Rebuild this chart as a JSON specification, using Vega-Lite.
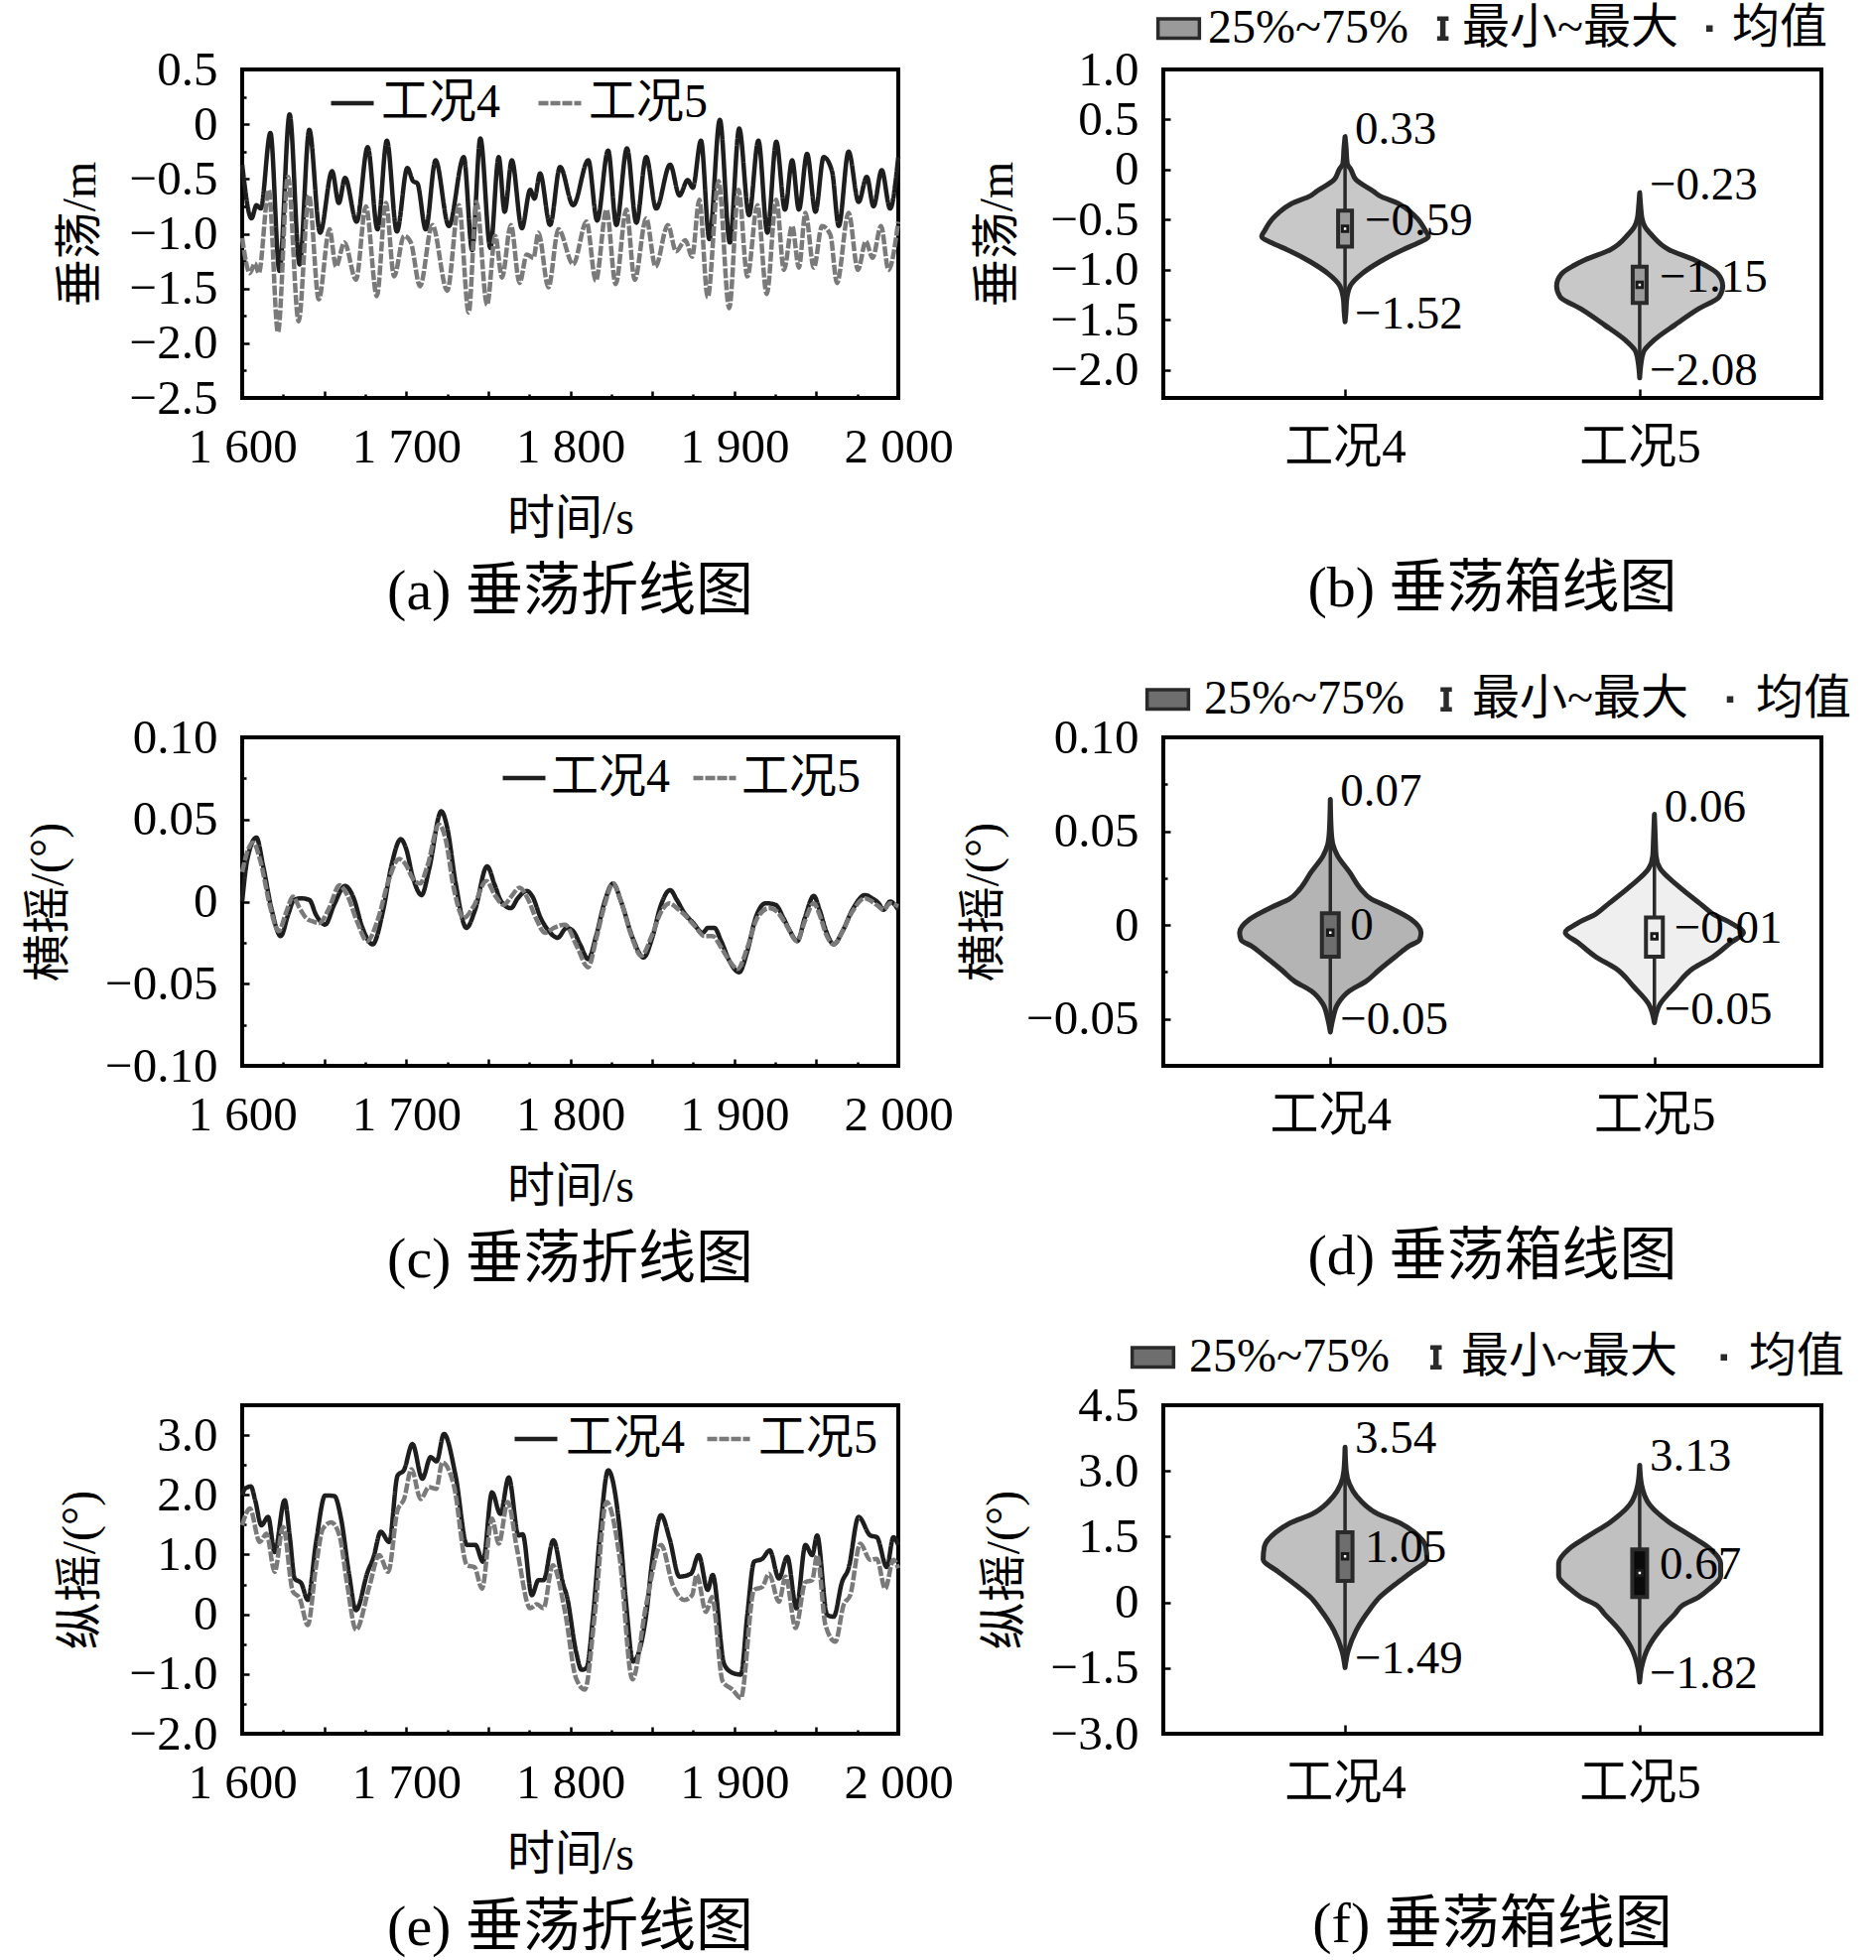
{
"$schema": "https://vega.github.io/schema/vega-lite/v6.json",
"autosize": {"type": "pad"},
"padding": {"left": 23, "top": 2, "right": 2, "bottom": 2},
"background": "#ffffff",
"config": {
  "font": "Liberation Serif, Noto Sans CJK SC",
  "view": {"stroke": "#000000", "strokeWidth": 4},
  "axis": {"domain": false, "grid": false, "labelFont": "Liberation Serif, Noto Sans CJK SC", "labelFontSize": 49, "labelColor": "#000000", "titleFont": "Liberation Serif, Noto Sans CJK SC", "titleFontSize": 48, "titleFontWeight": "normal", "titleColor": "#000000", "tickColor": "#000000", "tickWidth": 2.5, "labelPadding": 32, "labelFlush": false, "labelOverlap": false, "labelSeparation": -200},
  "legend": {"labelFont": "Liberation Serif, Noto Sans CJK SC", "labelFontSize": 48, "labelColor": "#000000", "padding": 0, "labelLimit": 600},
  "title": {"font": "Liberation Serif, Noto Sans CJK SC", "fontSize": 58, "fontWeight": "normal", "color": "#000000"}
},
"datasets": {
"heave": [
{"s":"工况4","t":1600,"v":-0.37},{"s":"工况4","t":1605.7,"v":-0.86},{"s":"工况4","t":1608.7,"v":-0.74},{"s":"工况4","t":1611.3,"v":-0.77},{"s":"工况4","t":1617.2,"v":-0.08},{"s":"工况4","t":1622.7,"v":-1.34},{"s":"工况4","t":1628.9,"v":0.09},{"s":"工况4","t":1635,"v":-1.28},{"s":"工况4","t":1640.9,"v":-0.05},{"s":"工况4","t":1647.5,"v":-0.99},{"s":"工况4","t":1654.8,"v":-0.43},{"s":"工况4","t":1658.9,"v":-0.72},{"s":"工况4","t":1662.7,"v":-0.49},{"s":"工况4","t":1669.8,"v":-0.89},{"s":"工况4","t":1676.5,"v":-0.21},{"s":"工况4","t":1682.5,"v":-0.96},{"s":"工况4","t":1688.2,"v":-0.15},{"s":"工况4","t":1694.3,"v":-0.98},{"s":"工况4","t":1700.7,"v":-0.4},{"s":"工况4","t":1704.2,"v":-0.52},{"s":"工况4","t":1706.8,"v":-0.54},{"s":"工况4","t":1711.9,"v":-0.96},{"s":"工况4","t":1717.9,"v":-0.33},{"s":"工况4","t":1726,"v":-0.93},{"s":"工况4","t":1735.1,"v":-0.3},{"s":"工况4","t":1740.2,"v":-1.15},{"s":"工况4","t":1745.2,"v":-0.13},{"s":"工况4","t":1751.3,"v":-1.13},{"s":"工况4","t":1756.4,"v":-0.3},{"s":"工况4","t":1760,"v":-0.8},{"s":"工况4","t":1764.4,"v":-0.33},{"s":"工况4","t":1770.5,"v":-0.95},{"s":"工况4","t":1775.6,"v":-0.6},{"s":"工况4","t":1778.2,"v":-0.68},{"s":"工况4","t":1781.6,"v":-0.45},{"s":"工况4","t":1787.7,"v":-0.92},{"s":"工况4","t":1793.8,"v":-0.39},{"s":"工况4","t":1801.8,"v":-0.74},{"s":"工况4","t":1811,"v":-0.33},{"s":"工况4","t":1816.4,"v":-0.88},{"s":"工况4","t":1823.1,"v":-0.24},{"s":"工况4","t":1828.1,"v":-0.92},{"s":"工况4","t":1834.6,"v":-0.22},{"s":"工况4","t":1840.3,"v":-0.9},{"s":"工况4","t":1846.3,"v":-0.3},{"s":"工况4","t":1852.4,"v":-0.77},{"s":"工况4","t":1860.9,"v":-0.37},{"s":"工况4","t":1866.6,"v":-0.65},{"s":"工况4","t":1871.6,"v":-0.51},{"s":"工况4","t":1874.7,"v":-0.58},{"s":"工况4","t":1879.7,"v":-0.15},{"s":"工况4","t":1884.8,"v":-1.05},{"s":"工况4","t":1891.2,"v":0.04},{"s":"工况4","t":1897.3,"v":-1.08},{"s":"工况4","t":1903,"v":-0.04},{"s":"工况4","t":1909,"v":-0.83},{"s":"工况4","t":1914.7,"v":-0.15},{"s":"工况4","t":1920.2,"v":-0.99},{"s":"工况4","t":1925.6,"v":-0.16},{"s":"工况4","t":1930.9,"v":-0.78},{"s":"工况4","t":1935.3,"v":-0.33},{"s":"工况4","t":1939.4,"v":-0.78},{"s":"工况4","t":1944.4,"v":-0.27},{"s":"工况4","t":1949.5,"v":-0.8},{"s":"工况4","t":1954.5,"v":-0.3},{"s":"工况4","t":1959.6,"v":-0.43},{"s":"工况4","t":1963.7,"v":-0.93},{"s":"工况4","t":1969.7,"v":-0.25},{"s":"工况4","t":1975.8,"v":-0.71},{"s":"工况4","t":1980.8,"v":-0.48},{"s":"工况4","t":1984.9,"v":-0.75},{"s":"工况4","t":1989.9,"v":-0.42},{"s":"工况4","t":1995,"v":-0.77},{"s":"工况4","t":2000,"v":-0.3},
{"s":"工况5","t":1600,"v":-1.04},{"s":"工况5","t":1604.7,"v":-1.36},{"s":"工况5","t":1607.7,"v":-1.27},{"s":"工况5","t":1610.1,"v":-1.36},{"s":"工况5","t":1616.2,"v":-0.6},{"s":"工况5","t":1621.8,"v":-1.9},{"s":"工况5","t":1627.9,"v":-0.48},{"s":"工况5","t":1634.4,"v":-1.8},{"s":"工况5","t":1640.7,"v":-0.65},{"s":"工况5","t":1646.7,"v":-1.6},{"s":"工况5","t":1653.2,"v":-0.96},{"s":"工况5","t":1657.2,"v":-1.3},{"s":"工况5","t":1662.3,"v":-1.08},{"s":"工况5","t":1669.4,"v":-1.42},{"s":"工况5","t":1675.4,"v":-0.75},{"s":"工况5","t":1682.1,"v":-1.57},{"s":"工况5","t":1687.6,"v":-0.72},{"s":"工况5","t":1692.6,"v":-1.39},{"s":"工况5","t":1698.7,"v":-1.02},{"s":"工况5","t":1702.8,"v":-1.08},{"s":"工况5","t":1708.4,"v":-1.48},{"s":"工况5","t":1715.9,"v":-0.92},{"s":"工况5","t":1725,"v":-1.52},{"s":"工况5","t":1732.1,"v":-0.74},{"s":"工况5","t":1738.1,"v":-1.72},{"s":"工况5","t":1742.8,"v":-0.71},{"s":"工况5","t":1749.3,"v":-1.65},{"s":"工况5","t":1754.3,"v":-1.02},{"s":"工况5","t":1758.4,"v":-1.4},{"s":"工况5","t":1763.8,"v":-0.92},{"s":"工况5","t":1769.1,"v":-1.45},{"s":"工况5","t":1773.5,"v":-1.19},{"s":"工况5","t":1777.6,"v":-1.22},{"s":"工况5","t":1780.6,"v":-0.99},{"s":"工况5","t":1786.7,"v":-1.49},{"s":"工况5","t":1792.8,"v":-0.96},{"s":"工况5","t":1801.8,"v":-1.28},{"s":"工况5","t":1809.9,"v":-0.89},{"s":"工况5","t":1815.6,"v":-1.43},{"s":"工况5","t":1822.1,"v":-0.78},{"s":"工况5","t":1827.7,"v":-1.46},{"s":"工况5","t":1834.2,"v":-0.78},{"s":"工况5","t":1839.3,"v":-1.42},{"s":"工况5","t":1846.3,"v":-0.86},{"s":"工况5","t":1852,"v":-1.3},{"s":"工况5","t":1859.5,"v":-0.92},{"s":"工况5","t":1864.5,"v":-1.16},{"s":"工况5","t":1870.2,"v":-1.06},{"s":"工况5","t":1874.3,"v":-1.21},{"s":"工况5","t":1878.7,"v":-0.69},{"s":"工况5","t":1883.8,"v":-1.58},{"s":"工况5","t":1890.4,"v":-0.52},{"s":"工况5","t":1896.9,"v":-1.68},{"s":"工况5","t":1902.6,"v":-0.6},{"s":"工况5","t":1908,"v":-1.39},{"s":"工况5","t":1914.1,"v":-0.74},{"s":"工况5","t":1919.8,"v":-1.55},{"s":"工况5","t":1925.6,"v":-0.69},{"s":"工况5","t":1930.3,"v":-1.33},{"s":"工况5","t":1935.3,"v":-0.93},{"s":"工况5","t":1939.4,"v":-1.31},{"s":"工况5","t":1943.4,"v":-0.81},{"s":"工况5","t":1948.5,"v":-1.31},{"s":"工况5","t":1953.5,"v":-0.93},{"s":"工况5","t":1958.6,"v":-1.01},{"s":"工况5","t":1962.6,"v":-1.45},{"s":"工况5","t":1969.7,"v":-0.81},{"s":"工况5","t":1975.4,"v":-1.33},{"s":"工况5","t":1980.2,"v":-1.07},{"s":"工况5","t":1984.3,"v":-1.22},{"s":"工况5","t":1989.5,"v":-0.93},{"s":"工况5","t":1994,"v":-1.33},{"s":"工况5","t":2000,"v":-0.89}
],
"roll": [
{"s":"工况4","t":1600,"v":0.0},{"s":"工况4","t":1603,"v":0.025},{"s":"工况4","t":1608.7,"v":0.039},{"s":"工况4","t":1612.7,"v":0.022},{"s":"工况4","t":1618,"v":-0.005},{"s":"工况4","t":1623.5,"v":-0.021},{"s":"工况4","t":1628,"v":-0.008},{"s":"工况4","t":1631.6,"v":0.001},{"s":"工况4","t":1636,"v":0.002},{"s":"工况4","t":1641,"v":0.001},{"s":"工况4","t":1645,"v":-0.008},{"s":"工况4","t":1650.6,"v":-0.014},{"s":"工况4","t":1656,"v":-0.002},{"s":"工况4","t":1662.7,"v":0.0095},{"s":"工况4","t":1668,"v":0.002},{"s":"工况4","t":1673,"v":-0.015},{"s":"工况4","t":1679.5,"v":-0.026},{"s":"工况4","t":1686,"v":-0.005},{"s":"工况4","t":1691,"v":0.022},{"s":"工况4","t":1696.7,"v":0.038},{"s":"工况4","t":1700,"v":0.032},{"s":"工况4","t":1704,"v":0.015},{"s":"工况4","t":1709.4,"v":0.004},{"s":"工况4","t":1714,"v":0.02},{"s":"工况4","t":1721.4,"v":0.055},{"s":"工况4","t":1725,"v":0.045},{"s":"工况4","t":1730,"v":0.012},{"s":"工况4","t":1736.7,"v":-0.016},{"s":"工况4","t":1742,"v":-0.005},{"s":"工况4","t":1749.3,"v":0.0215},{"s":"工况4","t":1754,"v":0.01},{"s":"工况4","t":1758,"v":0.0},{"s":"工况4","t":1763.8,"v":-0.004},{"s":"工况4","t":1768,"v":0.002},{"s":"工况4","t":1773.5,"v":0.0065},{"s":"工况4","t":1777,"v":0.003},{"s":"工况4","t":1782,"v":-0.01},{"s":"工况4","t":1787,"v":-0.018},{"s":"工况4","t":1792.3,"v":-0.022},{"s":"工况4","t":1797.8,"v":-0.016},{"s":"工况4","t":1801.8,"v":-0.018},{"s":"工况4","t":1806,"v":-0.026},{"s":"工况4","t":1810.9,"v":-0.035},{"s":"工况4","t":1816,"v":-0.02},{"s":"工况4","t":1821,"v":0.0},{"s":"工况4","t":1826.1,"v":0.011},{"s":"工况4","t":1831,"v":0.0},{"s":"工况4","t":1838,"v":-0.022},{"s":"工况4","t":1844.7,"v":-0.034},{"s":"工况4","t":1850,"v":-0.022},{"s":"工况4","t":1855,"v":-0.003},{"s":"工况4","t":1860.9,"v":0.007},{"s":"工况4","t":1865,"v":0.001},{"s":"工况4","t":1869.6,"v":-0.007},{"s":"工况4","t":1875,"v":-0.013},{"s":"工况4","t":1880.7,"v":-0.019},{"s":"工况4","t":1884,"v":-0.016},{"s":"工况4","t":1887.8,"v":-0.016},{"s":"工况4","t":1892,"v":-0.024},{"s":"工况4","t":1897,"v":-0.036},{"s":"工况4","t":1903,"v":-0.043},{"s":"工况4","t":1908,"v":-0.03},{"s":"工况4","t":1913,"v":-0.01},{"s":"工况4","t":1919.2,"v":-0.001},{"s":"工况4","t":1925.2,"v":-0.002},{"s":"工况4","t":1930,"v":-0.01},{"s":"工况4","t":1934,"v":-0.018},{"s":"工况4","t":1938.4,"v":-0.024},{"s":"工况4","t":1943,"v":-0.01},{"s":"工况4","t":1948.5,"v":0.0035},{"s":"工况4","t":1952,"v":-0.005},{"s":"工况4","t":1956,"v":-0.018},{"s":"工况4","t":1960.6,"v":-0.026},{"s":"工况4","t":1966,"v":-0.018},{"s":"工况4","t":1972,"v":-0.005},{"s":"工况4","t":1979.8,"v":0.004},{"s":"工况4","t":1984,"v":0.002},{"s":"工况4","t":1988,"v":-0.001},{"s":"工况4","t":1991,"v":-0.005},{"s":"工况4","t":1995,"v":0.0},{"s":"工况4","t":2000,"v":-0.005},
{"s":"工况5","t":1600,"v":0.018},{"s":"工况5","t":1603,"v":0.03},{"s":"工况5","t":1606.7,"v":0.036},{"s":"工况5","t":1611,"v":0.025},{"s":"工况5","t":1617,"v":-0.003},{"s":"工况5","t":1622.2,"v":-0.018},{"s":"工况5","t":1627,"v":-0.006},{"s":"工况5","t":1630.9,"v":0.003},{"s":"工况5","t":1635,"v":-0.004},{"s":"工况5","t":1639,"v":-0.01},{"s":"工况5","t":1643,"v":-0.012},{"s":"工况5","t":1647.1,"v":-0.013},{"s":"工况5","t":1653,"v":-0.004},{"s":"工况5","t":1659.3,"v":0.01},{"s":"工况5","t":1664,"v":0.004},{"s":"工况5","t":1670,"v":-0.012},{"s":"工况5","t":1676.1,"v":-0.024},{"s":"工况5","t":1683,"v":-0.01},{"s":"工况5","t":1689,"v":0.012},{"s":"工况5","t":1695.7,"v":0.026},{"s":"工况5","t":1700,"v":0.022},{"s":"工况5","t":1704,"v":0.014},{"s":"工况5","t":1708.4,"v":0.011},{"s":"工况5","t":1713,"v":0.022},{"s":"工况5","t":1719.9,"v":0.047},{"s":"工况5","t":1724,"v":0.038},{"s":"工况5","t":1729,"v":0.008},{"s":"工况5","t":1735.1,"v":-0.01},{"s":"工况5","t":1741,"v":-0.003},{"s":"工况5","t":1748.9,"v":0.0125},{"s":"工况5","t":1754,"v":0.004},{"s":"工况5","t":1759.4,"v":-0.002},{"s":"工况5","t":1764,"v":0.003},{"s":"工况5","t":1769.1,"v":0.0085},{"s":"工况5","t":1774,"v":0.002},{"s":"工况5","t":1779,"v":-0.01},{"s":"工况5","t":1784.7,"v":-0.019},{"s":"工况5","t":1790,"v":-0.016},{"s":"工况5","t":1796.8,"v":-0.014},{"s":"工况5","t":1803.9,"v":-0.027},{"s":"工况5","t":1810.9,"v":-0.04},{"s":"工况5","t":1816,"v":-0.022},{"s":"工况5","t":1821,"v":-0.002},{"s":"工况5","t":1826.1,"v":0.011},{"s":"工况5","t":1831,"v":0.0},{"s":"工况5","t":1837,"v":-0.02},{"s":"工况5","t":1843.3,"v":-0.033},{"s":"工况5","t":1850,"v":-0.02},{"s":"工况5","t":1855,"v":-0.007},{"s":"工况5","t":1860.5,"v":-0.001},{"s":"工况5","t":1865,"v":-0.004},{"s":"工况5","t":1869.6,"v":-0.008},{"s":"工况5","t":1876,"v":-0.015},{"s":"工况5","t":1881.7,"v":-0.021},{"s":"工况5","t":1886.8,"v":-0.021},{"s":"工况5","t":1892,"v":-0.028},{"s":"工况5","t":1897,"v":-0.036},{"s":"工况5","t":1902,"v":-0.041},{"s":"工况5","t":1908,"v":-0.028},{"s":"工况5","t":1914,"v":-0.01},{"s":"工况5","t":1921.2,"v":-0.004},{"s":"工况5","t":1926,"v":-0.006},{"s":"工况5","t":1931,"v":-0.013},{"s":"工况5","t":1938.4,"v":-0.024},{"s":"工况5","t":1943,"v":-0.012},{"s":"工况5","t":1948.5,"v":-0.001},{"s":"工况5","t":1952,"v":-0.008},{"s":"工况5","t":1956,"v":-0.02},{"s":"工况5","t":1960.6,"v":-0.026},{"s":"工况5","t":1966,"v":-0.018},{"s":"工况5","t":1972,"v":-0.006},{"s":"工况5","t":1979.8,"v":0.002},{"s":"工况5","t":1984,"v":0.0},{"s":"工况5","t":1988,"v":-0.003},{"s":"工况5","t":1991,"v":-0.005},{"s":"工况5","t":1995,"v":-0.001},{"s":"工况5","t":2000,"v":-0.003}
],
"pitch": [
{"s":"工况4","t":1600,"v":1.99},{"s":"工况4","t":1601.6,"v":2.1},{"s":"工况4","t":1605.3,"v":2.14},{"s":"工况4","t":1608,"v":1.9},{"s":"工况4","t":1611.7,"v":1.49},{"s":"工况4","t":1615.8,"v":1.63},{"s":"工况4","t":1619.8,"v":1.04},{"s":"工况4","t":1625.9,"v":1.91},{"s":"工况4","t":1629,"v":1.3},{"s":"工况4","t":1632,"v":0.6},{"s":"工况4","t":1636,"v":0.52},{"s":"工况4","t":1640,"v":0.24},{"s":"工况4","t":1645,"v":1.2},{"s":"工况4","t":1650.6,"v":1.99},{"s":"工况4","t":1656.2,"v":1.98},{"s":"工况4","t":1660.3,"v":1.6},{"s":"工况4","t":1665,"v":0.7},{"s":"工况4","t":1669.4,"v":0.07},{"s":"工况4","t":1676.5,"v":0.71},{"s":"工况4","t":1680,"v":0.95},{"s":"工况4","t":1684.5,"v":1.38},{"s":"工况4","t":1689.6,"v":1.21},{"s":"工况4","t":1694.7,"v":2.32},{"s":"工况4","t":1698.7,"v":2.42},{"s":"工况4","t":1703.8,"v":2.85},{"s":"工况4","t":1709.8,"v":2.27},{"s":"工况4","t":1714.9,"v":2.63},{"s":"工况4","t":1718.5,"v":2.56},{"s":"工况4","t":1723,"v":3.02},{"s":"工况4","t":1730.1,"v":2.32},{"s":"工况4","t":1737.1,"v":1.16},{"s":"工况4","t":1742.2,"v":1.16},{"s":"工况4","t":1746.8,"v":0.88},{"s":"工况4","t":1752.3,"v":2.04},{"s":"工况4","t":1757.4,"v":1.68},{"s":"工况4","t":1762.5,"v":2.29},{"s":"工况4","t":1768.5,"v":1.32},{"s":"工况4","t":1771,"v":1.34},{"s":"工况4","t":1776.6,"v":0.32},{"s":"工况4","t":1780.6,"v":0.57},{"s":"工况4","t":1783.7,"v":0.57},{"s":"工况4","t":1789.7,"v":1.24},{"s":"工况4","t":1795.8,"v":0.49},{"s":"工况4","t":1797.8,"v":0.32},{"s":"工况4","t":1803.5,"v":-0.62},{"s":"工况4","t":1806.9,"v":-0.93},{"s":"工况4","t":1809.9,"v":-0.9},{"s":"工况4","t":1814,"v":0.0},{"s":"工况4","t":1818,"v":1.3},{"s":"工况4","t":1823.1,"v":2.41},{"s":"工况4","t":1830.2,"v":1.41},{"s":"工况4","t":1834,"v":0.2},{"s":"工况4","t":1838.3,"v":-0.79},{"s":"工况4","t":1846.3,"v":-0.01},{"s":"工况4","t":1850,"v":0.9},{"s":"工况4","t":1855.4,"v":1.66},{"s":"工况4","t":1860.5,"v":1.27},{"s":"工况4","t":1866.6,"v":0.63},{"s":"工况4","t":1873.6,"v":0.68},{"s":"工况4","t":1878.3,"v":0.99},{"s":"工况4","t":1883.8,"v":0.41},{"s":"工况4","t":1886.8,"v":0.66},{"s":"工况4","t":1893.9,"v":-0.84},{"s":"工况4","t":1898.9,"v":-0.98},{"s":"工况4","t":1904,"v":-1.01},{"s":"工况4","t":1908,"v":0.0},{"s":"工况4","t":1912.1,"v":0.88},{"s":"工况4","t":1917.1,"v":0.93},{"s":"工况4","t":1921.6,"v":1.07},{"s":"工况4","t":1927.2,"v":0.6},{"s":"工况4","t":1932.3,"v":0.96},{"s":"工况4","t":1937.9,"v":0.1},{"s":"工况4","t":1943.4,"v":1.16},{"s":"工况4","t":1947.5,"v":0.99},{"s":"工况4","t":1950.5,"v":1.32},{"s":"工况4","t":1956.6,"v":-0.01},{"s":"工况4","t":1960.6,"v":-0.04},{"s":"工况4","t":1965.7,"v":0.54},{"s":"工况4","t":1969.7,"v":0.77},{"s":"工况4","t":1975.8,"v":1.63},{"s":"工况4","t":1982.9,"v":1.32},{"s":"工况4","t":1986.9,"v":1.29},{"s":"工况4","t":1993,"v":0.79},{"s":"工况4","t":1997,"v":1.29},{"s":"工况4","t":2000,"v":1.16},
{"s":"工况5","t":1600,"v":1.49},{"s":"工况5","t":1604.7,"v":1.77},{"s":"工况5","t":1610.7,"v":1.21},{"s":"工况5","t":1614.8,"v":1.35},{"s":"工况5","t":1619.8,"v":0.71},{"s":"工况5","t":1624.9,"v":1.46},{"s":"工况5","t":1630.9,"v":0.38},{"s":"工况5","t":1635,"v":0.27},{"s":"工况5","t":1640,"v":-0.18},{"s":"工况5","t":1645,"v":0.8},{"s":"工况5","t":1649.2,"v":1.43},{"s":"工况5","t":1654.2,"v":1.54},{"s":"工况5","t":1659.3,"v":1.32},{"s":"工况5","t":1664,"v":0.5},{"s":"工况5","t":1669.4,"v":-0.26},{"s":"工况5","t":1677.5,"v":0.46},{"s":"工况5","t":1683.5,"v":0.99},{"s":"工况5","t":1689,"v":0.71},{"s":"工况5","t":1694.7,"v":1.74},{"s":"工况5","t":1698.7,"v":1.93},{"s":"工况5","t":1703.2,"v":2.43},{"s":"工况5","t":1708.8,"v":1.93},{"s":"工况5","t":1713.9,"v":2.13},{"s":"工况5","t":1718.3,"v":2.1},{"s":"工况5","t":1722,"v":2.54},{"s":"工况5","t":1729,"v":2.16},{"s":"工况5","t":1737.1,"v":0.82},{"s":"工况5","t":1741.6,"v":0.79},{"s":"工况5","t":1746.2,"v":0.43},{"s":"工况5","t":1752.3,"v":1.6},{"s":"工况5","t":1756.4,"v":1.18},{"s":"工况5","t":1761.9,"v":1.88},{"s":"工况5","t":1767.5,"v":1.1},{"s":"工况5","t":1775.6,"v":0.1},{"s":"工况5","t":1779.7,"v":0.17},{"s":"工况5","t":1783.7,"v":0.1},{"s":"工况5","t":1789.3,"v":0.82},{"s":"工况5","t":1796.8,"v":0.04},{"s":"工况5","t":1803.5,"v":-1.07},{"s":"工况5","t":1808.9,"v":-1.26},{"s":"工况5","t":1815,"v":0.0},{"s":"工况5","t":1822.1,"v":1.88},{"s":"工况5","t":1830.2,"v":0.93},{"s":"工况5","t":1837.9,"v":-1.09},{"s":"工况5","t":1846.3,"v":0.16},{"s":"工况5","t":1855.4,"v":1.16},{"s":"工况5","t":1862.5,"v":0.49},{"s":"工况5","t":1869.6,"v":0.24},{"s":"工况5","t":1874.3,"v":0.32},{"s":"工况5","t":1877.1,"v":0.66},{"s":"工况5","t":1882.8,"v":0.04},{"s":"工况5","t":1886.4,"v":0.29},{"s":"工况5","t":1892.9,"v":-1.12},{"s":"工况5","t":1898.9,"v":-1.26},{"s":"工况5","t":1904,"v":-1.4},{"s":"工况5","t":1912.1,"v":0.41},{"s":"工况5","t":1917.1,"v":0.46},{"s":"工况5","t":1921.2,"v":0.68},{"s":"工况5","t":1927.2,"v":0.21},{"s":"工况5","t":1931.3,"v":0.63},{"s":"工况5","t":1937.4,"v":-0.23},{"s":"工况5","t":1943.4,"v":0.54},{"s":"工况5","t":1947.5,"v":0.57},{"s":"工况5","t":1950.5,"v":0.99},{"s":"工况5","t":1955.6,"v":-0.18},{"s":"工况5","t":1961.6,"v":-0.46},{"s":"工况5","t":1966.7,"v":0.16},{"s":"工况5","t":1970.7,"v":0.32},{"s":"工况5","t":1976.8,"v":1.18},{"s":"工况5","t":1982.9,"v":0.91},{"s":"工况5","t":1986.9,"v":0.93},{"s":"工况5","t":1992,"v":0.43},{"s":"工况5","t":1997,"v":0.91},{"s":"工况5","t":2000,"v":0.77}
],
"vb": [
{"c":1,"y":0.33,"w":0},{"c":1,"y":0.2,"w":0.004},{"c":1,"y":0.1,"w":0.006},{"c":1,"y":0.055,"w":0.008},{"c":1,"y":0,"w":0.02},{"c":1,"y":-0.1,"w":0.037},{"c":1,"y":-0.22,"w":0.098},{"c":1,"y":-0.26,"w":0.116},{"c":1,"y":-0.34,"w":0.182},{"c":1,"y":-0.43,"w":0.225},{"c":1,"y":-0.49,"w":0.246},{"c":1,"y":-0.61,"w":0.273},{"c":1,"y":-0.67,"w":0.283},{"c":1,"y":-0.73,"w":0.25},{"c":1,"y":-0.8,"w":0.196},{"c":1,"y":-0.92,"w":0.118},{"c":1,"y":-1.04,"w":0.057},{"c":1,"y":-1.16,"w":0.018},{"c":1,"y":-1.31,"w":0.005},{"c":1,"y":-1.42,"w":0.003},{"c":1,"y":-1.52,"w":0},
{"c":2,"y":-0.23,"w":0},{"c":2,"y":-0.35,"w":0.003},{"c":2,"y":-0.49,"w":0.008},{"c":2,"y":-0.57,"w":0.018},{"c":2,"y":-0.65,"w":0.04},{"c":2,"y":-0.8,"w":0.1},{"c":2,"y":-0.9,"w":0.185},{"c":2,"y":-0.96,"w":0.225},{"c":2,"y":-1.04,"w":0.265},{"c":2,"y":-1.16,"w":0.282},{"c":2,"y":-1.27,"w":0.27},{"c":2,"y":-1.39,"w":0.2},{"c":2,"y":-1.55,"w":0.12},{"c":2,"y":-1.7,"w":0.05},{"c":2,"y":-1.82,"w":0.013},{"c":2,"y":-1.95,"w":0.004},{"c":2,"y":-2.08,"w":0}
],
"vd": [
{"c":1,"y":0.067,"w":0},{"c":1,"y":0.05,"w":0.003},{"c":1,"y":0.043,"w":0.008},{"c":1,"y":0.037,"w":0.022},{"c":1,"y":0.028,"w":0.06},{"c":1,"y":0.019,"w":0.095},{"c":1,"y":0.014,"w":0.125},{"c":1,"y":0.0096,"w":0.18},{"c":1,"y":0.003,"w":0.25},{"c":1,"y":-0.004,"w":0.28},{"c":1,"y":-0.008,"w":0.275},{"c":1,"y":-0.011,"w":0.245},{"c":1,"y":-0.017,"w":0.2},{"c":1,"y":-0.024,"w":0.15},{"c":1,"y":-0.03,"w":0.11},{"c":1,"y":-0.035,"w":0.06},{"c":1,"y":-0.042,"w":0.023},{"c":1,"y":-0.05,"w":0.008},{"c":1,"y":-0.057,"w":0},
{"c":2,"y":0.059,"w":0},{"c":2,"y":0.045,"w":0.003},{"c":2,"y":0.037,"w":0.005},{"c":2,"y":0.03,"w":0.018},{"c":2,"y":0.021,"w":0.072},{"c":2,"y":0.011,"w":0.144},{"c":2,"y":0.006,"w":0.18},{"c":2,"y":0.0007,"w":0.24},{"c":2,"y":-0.004,"w":0.275},{"c":2,"y":-0.0094,"w":0.235},{"c":2,"y":-0.017,"w":0.18},{"c":2,"y":-0.023,"w":0.12},{"c":2,"y":-0.033,"w":0.063},{"c":2,"y":-0.042,"w":0.018},{"c":2,"y":-0.052,"w":0}
],
"vf": [
{"c":1,"y":3.54,"w":0},{"c":1,"y":3.0,"w":0.004},{"c":1,"y":2.7,"w":0.015},{"c":1,"y":2.42,"w":0.04},{"c":1,"y":2.03,"w":0.108},{"c":1,"y":1.8,"w":0.19},{"c":1,"y":1.6,"w":0.235},{"c":1,"y":1.27,"w":0.274},{"c":1,"y":0.98,"w":0.278},{"c":1,"y":0.7,"w":0.227},{"c":1,"y":0.41,"w":0.17},{"c":1,"y":0.12,"w":0.118},{"c":1,"y":-0.16,"w":0.084},{"c":1,"y":-0.64,"w":0.038},{"c":1,"y":-1.12,"w":0.01},{"c":1,"y":-1.49,"w":0},
{"c":2,"y":3.13,"w":0},{"c":2,"y":2.7,"w":0.006},{"c":2,"y":2.23,"w":0.034},{"c":2,"y":1.84,"w":0.098},{"c":2,"y":1.51,"w":0.175},{"c":2,"y":1.22,"w":0.24},{"c":2,"y":0.89,"w":0.275},{"c":2,"y":0.6,"w":0.275},{"c":2,"y":0.3,"w":0.235},{"c":2,"y":0.12,"w":0.2},{"c":2,"y":-0.07,"w":0.145},{"c":2,"y":-0.26,"w":0.12},{"c":2,"y":-0.64,"w":0.068},{"c":2,"y":-1.02,"w":0.03},{"c":2,"y":-1.5,"w":0.006},{"c":2,"y":-1.82,"w":0}
],
"sb": [
{"c":1,"min":-1.52,"q1":-0.77,"q3":-0.41,"max":0.33,"mean":-0.59,"lmax":"0.33","lmean":"−0.59","lmin":"−1.52"},
{"c":2,"min":-2.08,"q1":-1.33,"q3":-0.97,"max":-0.23,"mean":-1.15,"lmax":"−0.23","lmean":"−1.15","lmin":"−2.08"}
],
"sd": [
{"c":1,"min":-0.057,"q1":-0.0168,"q3":0.0063,"max":0.067,"mean":-0.004,"lmax":"0.07","lmean":"0","lmin":"−0.05"},
{"c":2,"min":-0.052,"q1":-0.0168,"q3":0.004,"max":0.059,"mean":-0.006,"lmax":"0.06","lmean":"−0.01","lmin":"−0.05"}
],
"sf": [
{"c":1,"min":-1.49,"q1":0.49,"q3":1.6,"max":3.54,"mean":1.05,"lmax":"3.54","lmean":"1.05","lmin":"−1.49"},
{"c":2,"min":-1.82,"q1":0.12,"q3":1.21,"max":3.13,"mean":0.67,"lmax":"3.13","lmean":"0.67","lmin":"−1.82"}
],
"legk": [{"k":"25%~75%"},{"k":"最小~最大"},{"k":"均值"}]
},
"columns": 2,
"spacing": {"row": 342, "column": 265},
"bounds": "flush",
"align": "all",
"resolve": {"scale": {"x": "independent", "y": "independent", "color": "independent", "fill": "independent", "stroke": "independent", "shape": "independent", "strokeDash": "independent"}, "legend": {"color": "independent", "fill": "independent", "stroke": "independent", "shape": "independent", "strokeDash": "independent"}},
"concat": [
{
 "width": 661, "height": 331,
 "data": {"name": "heave"},
 "title": {"text": "(a) 垂荡折线图", "orient": "bottom", "offset": 21, "frame": "group", "anchor": "middle"},
 "mark": {"type": "line", "interpolate": "monotone", "strokeWidth": 4.5},
 "encoding": {
  "x": {"field": "t", "type": "quantitative", "scale": {"domain": [1600, 2000], "nice": false, "zero": false},
        "axis": {"title": "时间/s", "titlePadding": 21, "labelOverlap": false, "labelSeparation": -200, "values": [1600,1625,1650,1675,1700,1725,1750,1775,1800,1825,1850,1875,1900,1925,1950,1975,2000], "labelExpr": "datum.value % 100 == 0 ? replace(format(datum.value, ','), ',', ' ') : ''", "tickSize": {"condition": {"test": "datum.value % 50 == 0", "value": -7}, "value": -4}}},
  "y": {"field": "v", "type": "quantitative", "scale": {"domain": [-2.5, 0.5], "nice": false, "zero": false},
        "axis": {"title": "垂荡/m", "titlePadding": 25, "labelOverlap": false, "labelSeparation": -200, "values": [-2.5,-2.25,-2,-1.75,-1.5,-1.25,-1,-0.75,-0.5,-0.25,0,0.25,0.5], "labelExpr": "abs(datum.value*2-round(datum.value*2))<1e-6 ? (abs(datum.value)<1e-9 ? '0' : format(datum.value, '.1f')) : ''", "tickSize": {"condition": {"test": "abs(datum.value*2-round(datum.value*2))<1e-6", "value": -7}, "value": -4}}},
  "color": {"field": "s", "type": "nominal", "scale": {"domain": ["工况4", "工况5"], "range": ["#1e1e1e", "#7a7a7a"]},
        "legend": {"title": null, "orient": "none", "legendX": 87, "legendY": 10, "direction": "horizontal", "symbolSize": 1849, "symbolStrokeWidth": 4.5, "labelOffset": 5, "columnPadding": 28}},
  "strokeDash": {"field": "s", "type": "nominal", "scale": {"domain": ["工况4", "工况5"], "range": [[1, 0], [10, 2]]}}
 }
},
{
 "width": 663, "height": 331,
 "title": {"text": "(b) 垂荡箱线图", "orient": "bottom", "offset": 90, "frame": "group", "anchor": "middle"},
 "resolve": {"scale": {"fill": "independent", "shape": "independent", "stroke": "independent"}},
 "layer": [
  {"data": {"name": "vb"},
   "transform": [{"calculate": "datum.c - datum.w", "as": "xl"}, {"calculate": "datum.c + datum.w", "as": "xr"}],
   "mark": {"type": "area", "orient": "horizontal", "interpolate": "monotone", "stroke": "#2a2a2a", "strokeWidth": 5, "strokeJoin": "round"},
   "encoding": {
    "y": {"field": "y", "type": "quantitative", "scale": {"domain": [-2.28, 1], "nice": false, "zero": false},
          "axis": {"title": "垂荡/m", "titlePadding": 29, "labelOverlap": false, "labelSeparation": -200, "values": [-2,-1.75,-1.5,-1.25,-1,-0.75,-0.5,-0.25,0,0.25,0.5,0.75,1], "labelExpr": "abs(datum.value*2-round(datum.value*2))<1e-6 ? (abs(datum.value)<1e-9 ? '0' : format(datum.value, '.1f')) : ''", "tickSize": {"condition": {"test": "abs(datum.value*2-round(datum.value*2))<1e-6", "value": -7}, "value": -4}}},
    "x": {"field": "xl", "type": "quantitative", "scale": {"domain": [0.4, 2.6], "nice": false, "zero": false},
          "axis": {"title": null, "labelOverlap": false, "values": [1, 2], "labelExpr": "datum.value == 1 ? '工况4' : '工况5'", "tickSize": -9, "labelPadding": 34}},
    "x2": {"field": "xr"},
    "fill": {"field": "c", "type": "nominal", "scale": {"domain": [1, 2], "range": ["#c8c8c8", "#c8c8c8"]}, "legend": null}
   }},
  {"data": {"name": "sb"}, "mark": {"type": "rule", "stroke": "#2a2a2a", "strokeWidth": 3.5},
   "encoding": {"x": {"field": "c", "type": "quantitative"}, "y": {"field": "min", "type": "quantitative"}, "y2": {"field": "max"}}},
  {"data": {"name": "sb"}, "mark": {"type": "bar", "width": 14, "stroke": "#2a2a2a", "strokeWidth": 4},
   "encoding": {"x": {"field": "c", "type": "quantitative"}, "y": {"field": "q1", "type": "quantitative"}, "y2": {"field": "q3"},
    "fill": {"field": "c", "type": "nominal", "scale": {"domain": [1, 2], "range": ["#9a9a9a", "#9a9a9a"]}, "legend": null}}},
  {"data": {"name": "sb"}, "mark": {"type": "point", "shape": "square", "size": 30, "filled": true, "fill": "#ffffff", "stroke": "#1a1a1a", "strokeWidth": 3, "opacity": 1},
   "encoding": {"x": {"field": "c", "type": "quantitative"}, "y": {"field": "mean", "type": "quantitative"}}},
  {"data": {"name": "sb"}, "mark": {"type": "text", "align": "left", "baseline": "middle", "dx": 10, "dy": -7, "fontSize": 47, "color": "#000000"},
   "encoding": {"x": {"field": "c", "type": "quantitative"}, "y": {"field": "max", "type": "quantitative"}, "text": {"field": "lmax"}}},
  {"data": {"name": "sb"}, "mark": {"type": "text", "align": "left", "baseline": "middle", "dx": 10, "dy": -7, "fontSize": 47, "color": "#000000"},
   "encoding": {"x": {"field": "c", "type": "quantitative"}, "y": {"field": "min", "type": "quantitative"}, "text": {"field": "lmin"}}},
  {"data": {"name": "sb"}, "mark": {"type": "text", "align": "left", "baseline": "middle", "dx": 20, "dy": -7, "fontSize": 47, "color": "#000000"},
   "encoding": {"x": {"field": "c", "type": "quantitative"}, "y": {"field": "mean", "type": "quantitative"}, "text": {"field": "lmean"}}},
  {"data": {"name": "legk"}, "mark": {"type": "point", "filled": false, "opacity": 0, "strokeWidth": 3.5},
   "encoding": {
    "shape": {"field": "k", "type": "nominal", "scale": {"domain": ["25%~75%", "最小~最大", "均值"], "range": ["M-0.927,-0.438H0.927V0.438H-0.927Z", "M0.272,-0.467H0.628V-0.423H0.494V0.423H0.628V0.467H0.272V0.423H0.406V-0.423H0.272Z", "M0.233,-0.067H0.367V0.067H0.233Z"]},
      "legend": {"title": null, "orient": "none", "legendX": -9, "legendY": -66, "direction": "horizontal", "symbolSize": 2025, "symbolStrokeWidth": 3.5, "symbolOpacity": 1, "labelOffset": 5, "columnPadding": 0}},
    "fill": {"field": "k", "type": "nominal", "scale": {"domain": ["25%~75%", "最小~最大", "均值"], "range": ["#9a9a9a", "#2a2a2a", "#2a2a2a"]}},
    "stroke": {"field": "k", "type": "nominal", "scale": {"domain": ["25%~75%", "最小~最大", "均值"], "range": ["#2a2a2a", "#2a2a2a", "#2a2a2a"]}}
   }}
 ]
},
{
 "width": 661, "height": 331,
 "data": {"name": "roll"},
 "title": {"text": "(c) 垂荡折线图", "orient": "bottom", "offset": 21, "frame": "group", "anchor": "middle"},
 "mark": {"type": "line", "interpolate": "monotone", "strokeWidth": 4.5},
 "encoding": {
  "x": {"field": "t", "type": "quantitative", "scale": {"domain": [1600, 2000], "nice": false, "zero": false},
        "axis": {"title": "时间/s", "titlePadding": 21, "labelOverlap": false, "labelSeparation": -200, "values": [1600,1625,1650,1675,1700,1725,1750,1775,1800,1825,1850,1875,1900,1925,1950,1975,2000], "labelExpr": "datum.value % 100 == 0 ? replace(format(datum.value, ','), ',', ' ') : ''", "tickSize": {"condition": {"test": "datum.value % 50 == 0", "value": -7}, "value": -4}}},
  "y": {"field": "v", "type": "quantitative", "scale": {"domain": [-0.1, 0.1], "nice": false, "zero": false},
        "axis": {"title": "横摇/(°)", "titlePadding": 32, "labelOverlap": false, "labelSeparation": -200, "values": [-0.1,-0.075,-0.05,-0.025,0,0.025,0.05,0.075,0.1], "labelExpr": "abs(datum.value*20-round(datum.value*20))<1e-6 ? (abs(datum.value)<1e-9 ? '0' : format(datum.value, '.2f')) : ''", "tickSize": {"condition": {"test": "abs(datum.value*20-round(datum.value*20))<1e-6", "value": -7}, "value": -4}}},
  "color": {"field": "s", "type": "nominal", "scale": {"domain": ["工况4", "工况5"], "range": ["#1e1e1e", "#7a7a7a"]},
        "legend": {"title": null, "orient": "none", "legendX": 260, "legendY": 17, "direction": "horizontal", "symbolSize": 1849, "symbolStrokeWidth": 4.5, "labelOffset": 3, "columnPadding": 13}},
  "strokeDash": {"field": "s", "type": "nominal", "scale": {"domain": ["工况4", "工况5"], "range": [[1, 0], [10, 2]]}}
 }
},
{
 "width": 663, "height": 331,
 "title": {"text": "(d) 垂荡箱线图", "orient": "bottom", "offset": 90, "frame": "group", "anchor": "middle"},
 "resolve": {"scale": {"fill": "independent", "shape": "independent", "stroke": "independent"}},
 "layer": [
  {"data": {"name": "vd"},
   "transform": [{"calculate": "datum.c - datum.w", "as": "xl"}, {"calculate": "datum.c + datum.w", "as": "xr"}],
   "mark": {"type": "area", "orient": "horizontal", "interpolate": "monotone", "stroke": "#2a2a2a", "strokeWidth": 5, "strokeJoin": "round"},
   "encoding": {
    "y": {"field": "y", "type": "quantitative", "scale": {"domain": [-0.075, 0.1], "nice": false, "zero": false},
          "axis": {"title": "横摇/(°)", "titlePadding": 18, "labelOverlap": false, "labelSeparation": -200, "values": [-0.075,-0.05,-0.025,0,0.025,0.05,0.075,0.1], "labelExpr": "abs(datum.value*20-round(datum.value*20))<1e-6 ? (abs(datum.value)<1e-9 ? '0' : format(datum.value, '.2f')) : ''", "tickSize": {"condition": {"test": "abs(datum.value*20-round(datum.value*20))<1e-6", "value": -7}, "value": -4}}},
    "x": {"field": "xl", "type": "quantitative", "scale": {"domain": [0.5, 2.5], "nice": false, "zero": false},
          "axis": {"title": null, "labelOverlap": false, "values": [1, 2], "labelExpr": "datum.value == 1 ? '工况4' : '工况5'", "tickSize": -9, "labelPadding": 34}},
    "x2": {"field": "xr"},
    "fill": {"field": "c", "type": "nominal", "scale": {"domain": [1, 2], "range": ["#b4b4b4", "#efefef"]}, "legend": null}
   }},
  {"data": {"name": "sd"}, "mark": {"type": "rule", "stroke": "#2a2a2a", "strokeWidth": 3.5},
   "encoding": {"x": {"field": "c", "type": "quantitative"}, "y": {"field": "min", "type": "quantitative"}, "y2": {"field": "max"}}},
  {"data": {"name": "sd"}, "mark": {"type": "bar", "width": 17, "stroke": "#2a2a2a", "strokeWidth": 4},
   "encoding": {"x": {"field": "c", "type": "quantitative"}, "y": {"field": "q1", "type": "quantitative"}, "y2": {"field": "q3"},
    "fill": {"field": "c", "type": "nominal", "scale": {"domain": [1, 2], "range": ["#6e6e6e", "#eeeeee"]}, "legend": null}}},
  {"data": {"name": "sd"}, "mark": {"type": "point", "shape": "square", "size": 30, "filled": true, "fill": "#ffffff", "stroke": "#1a1a1a", "strokeWidth": 3, "opacity": 1},
   "encoding": {"x": {"field": "c", "type": "quantitative"}, "y": {"field": "mean", "type": "quantitative"}}},
  {"data": {"name": "sd"}, "mark": {"type": "text", "align": "left", "baseline": "middle", "dx": 10, "dy": -7, "fontSize": 47, "color": "#000000"},
   "encoding": {"x": {"field": "c", "type": "quantitative"}, "y": {"field": "max", "type": "quantitative"}, "text": {"field": "lmax"}}},
  {"data": {"name": "sd"}, "mark": {"type": "text", "align": "left", "baseline": "middle", "dx": 10, "dy": -12, "fontSize": 47, "color": "#000000"},
   "encoding": {"x": {"field": "c", "type": "quantitative"}, "y": {"field": "min", "type": "quantitative"}, "text": {"field": "lmin"}}},
  {"data": {"name": "sd"}, "mark": {"type": "text", "align": "left", "baseline": "middle", "dx": 20, "dy": -7, "fontSize": 47, "color": "#000000"},
   "encoding": {"x": {"field": "c", "type": "quantitative"}, "y": {"field": "mean", "type": "quantitative"}, "text": {"field": "lmean"}}},
  {"data": {"name": "legk"}, "mark": {"type": "point", "filled": false, "opacity": 0, "strokeWidth": 3.5},
   "encoding": {
    "shape": {"field": "k", "type": "nominal", "scale": {"domain": ["25%~75%", "最小~最大", "均值"], "range": ["M-0.927,-0.438H0.927V0.438H-0.927Z", "M0.289,-0.467H0.645V-0.423H0.511V0.423H0.645V0.467H0.289V0.423H0.423V-0.423H0.289Z", "M0.4,-0.067H0.534V0.067H0.4Z"]},
      "legend": {"title": null, "orient": "none", "legendX": -20, "legendY": -63, "direction": "horizontal", "symbolSize": 2025, "symbolStrokeWidth": 3.5, "symbolOpacity": 1, "labelOffset": 12, "columnPadding": 7}},
    "fill": {"field": "k", "type": "nominal", "scale": {"domain": ["25%~75%", "最小~最大", "均值"], "range": ["#6e6e6e", "#2a2a2a", "#2a2a2a"]}},
    "stroke": {"field": "k", "type": "nominal", "scale": {"domain": ["25%~75%", "最小~最大", "均值"], "range": ["#2a2a2a", "#2a2a2a", "#2a2a2a"]}}
   }}
 ]
},
{
 "width": 661, "height": 331,
 "data": {"name": "pitch"},
 "title": {"text": "(e) 垂荡折线图", "orient": "bottom", "offset": 21, "frame": "group", "anchor": "middle"},
 "mark": {"type": "line", "interpolate": "monotone", "strokeWidth": 4.5},
 "encoding": {
  "x": {"field": "t", "type": "quantitative", "scale": {"domain": [1600, 2000], "nice": false, "zero": false},
        "axis": {"title": "时间/s", "titlePadding": 21, "labelOverlap": false, "labelSeparation": -200, "values": [1600,1625,1650,1675,1700,1725,1750,1775,1800,1825,1850,1875,1900,1925,1950,1975,2000], "labelExpr": "datum.value % 100 == 0 ? replace(format(datum.value, ','), ',', ' ') : ''", "tickSize": {"condition": {"test": "datum.value % 50 == 0", "value": -7}, "value": -4}}},
  "y": {"field": "v", "type": "quantitative", "scale": {"domain": [-2, 3.5], "nice": false, "zero": false},
        "axis": {"title": "纵摇/(°)", "titlePadding": 25, "labelOverlap": false, "labelSeparation": -200, "values": [-2,-1.5,-1,-0.5,0,0.5,1,1.5,2,2.5,3,3.5], "labelExpr": "abs(datum.value-round(datum.value))<1e-6 ? (abs(datum.value)<1e-9 ? '0' : format(datum.value, '.1f')) : ''", "tickSize": {"condition": {"test": "abs(datum.value-round(datum.value))<1e-6", "value": -7}, "value": -4}}},
  "color": {"field": "s", "type": "nominal", "scale": {"domain": ["工况4", "工况5"], "range": ["#1e1e1e", "#7a7a7a"]},
        "legend": {"title": null, "orient": "none", "legendX": 272, "legendY": 10, "direction": "horizontal", "symbolSize": 1849, "symbolStrokeWidth": 4.5, "labelOffset": 6, "columnPadding": 12}},
  "strokeDash": {"field": "s", "type": "nominal", "scale": {"domain": ["工况4", "工况5"], "range": [[1, 0], [10, 2]]}}
 }
},
{
 "width": 663, "height": 331,
 "title": {"text": "(f) 垂荡箱线图", "orient": "bottom", "offset": 90, "frame": "group", "anchor": "middle"},
 "resolve": {"scale": {"fill": "independent", "shape": "independent", "stroke": "independent"}},
 "layer": [
  {"data": {"name": "vf"},
   "transform": [{"calculate": "datum.c - datum.w", "as": "xl"}, {"calculate": "datum.c + datum.w", "as": "xr"}],
   "mark": {"type": "area", "orient": "horizontal", "interpolate": "monotone", "stroke": "#2a2a2a", "strokeWidth": 5, "strokeJoin": "round"},
   "encoding": {
    "y": {"field": "y", "type": "quantitative", "scale": {"domain": [-3, 4.5], "nice": false, "zero": false},
          "axis": {"title": "纵摇/(°)", "titlePadding": 22, "labelOverlap": false, "labelSeparation": -200, "values": [-3,-2.25,-1.5,-0.75,0,0.75,1.5,2.25,3,3.75,4.5], "labelExpr": "abs(datum.value/1.5-round(datum.value/1.5))<1e-6 ? (abs(datum.value)<1e-9 ? '0' : format(datum.value, '.1f')) : ''", "tickSize": {"condition": {"test": "abs(datum.value/1.5-round(datum.value/1.5))<1e-6", "value": -7}, "value": -4}}},
    "x": {"field": "xl", "type": "quantitative", "scale": {"domain": [0.4, 2.6], "nice": false, "zero": false},
          "axis": {"title": null, "labelOverlap": false, "values": [1, 2], "labelExpr": "datum.value == 1 ? '工况4' : '工况5'", "tickSize": -9, "labelPadding": 34}},
    "x2": {"field": "xr"},
    "fill": {"field": "c", "type": "nominal", "scale": {"domain": [1, 2], "range": ["#c0c0c0", "#c0c0c0"]}, "legend": null}
   }},
  {"data": {"name": "sf"}, "mark": {"type": "rule", "stroke": "#2a2a2a", "strokeWidth": 3.5},
   "encoding": {"x": {"field": "c", "type": "quantitative"}, "y": {"field": "min", "type": "quantitative"}, "y2": {"field": "max"}}},
  {"data": {"name": "sf"}, "mark": {"type": "bar", "width": 15, "stroke": "#2a2a2a", "strokeWidth": 4},
   "encoding": {"x": {"field": "c", "type": "quantitative"}, "y": {"field": "q1", "type": "quantitative"}, "y2": {"field": "q3"},
    "fill": {"field": "c", "type": "nominal", "scale": {"domain": [1, 2], "range": ["#6e6e6e", "#0a0a0a"]}, "legend": null}}},
  {"data": {"name": "sf"}, "mark": {"type": "point", "shape": "square", "size": 30, "filled": true, "fill": "#ffffff", "stroke": "#1a1a1a", "strokeWidth": 3, "opacity": 1},
   "encoding": {"x": {"field": "c", "type": "quantitative"}, "y": {"field": "mean", "type": "quantitative"}}},
  {"data": {"name": "sf"}, "mark": {"type": "text", "align": "left", "baseline": "middle", "dx": 10, "dy": -8, "fontSize": 47, "color": "#000000"},
   "encoding": {"x": {"field": "c", "type": "quantitative"}, "y": {"field": "max", "type": "quantitative"}, "text": {"field": "lmax"}}},
  {"data": {"name": "sf"}, "mark": {"type": "text", "align": "left", "baseline": "middle", "dx": 10, "dy": -8, "fontSize": 47, "color": "#000000"},
   "encoding": {"x": {"field": "c", "type": "quantitative"}, "y": {"field": "min", "type": "quantitative"}, "text": {"field": "lmin"}}},
  {"data": {"name": "sf"}, "mark": {"type": "text", "align": "left", "baseline": "middle", "dx": 20, "dy": -8, "fontSize": 47, "color": "#000000"},
   "encoding": {"x": {"field": "c", "type": "quantitative"}, "y": {"field": "mean", "type": "quantitative"}, "text": {"field": "lmean"}}},
  {"data": {"name": "legk"}, "mark": {"type": "point", "filled": false, "opacity": 0, "strokeWidth": 3.5},
   "encoding": {
    "shape": {"field": "k", "type": "nominal", "scale": {"domain": ["25%~75%", "最小~最大", "均值"], "range": ["M-0.927,-0.438H0.927V0.438H-0.927Z", "M0.322,-0.467H0.678V-0.423H0.544V0.423H0.678V0.467H0.322V0.423H0.456V-0.423H0.322Z", "M0.433,-0.067H0.567V0.067H0.433Z"]},
      "legend": {"title": null, "orient": "none", "legendX": -35, "legendY": -73, "direction": "horizontal", "symbolSize": 2025, "symbolStrokeWidth": 3.5, "symbolOpacity": 1, "labelOffset": 12, "columnPadding": 11}},
    "fill": {"field": "k", "type": "nominal", "scale": {"domain": ["25%~75%", "最小~最大", "均值"], "range": ["#6e6e6e", "#2a2a2a", "#2a2a2a"]}},
    "stroke": {"field": "k", "type": "nominal", "scale": {"domain": ["25%~75%", "最小~最大", "均值"], "range": ["#2a2a2a", "#2a2a2a", "#2a2a2a"]}}
   }}
 ]
}
]
}
